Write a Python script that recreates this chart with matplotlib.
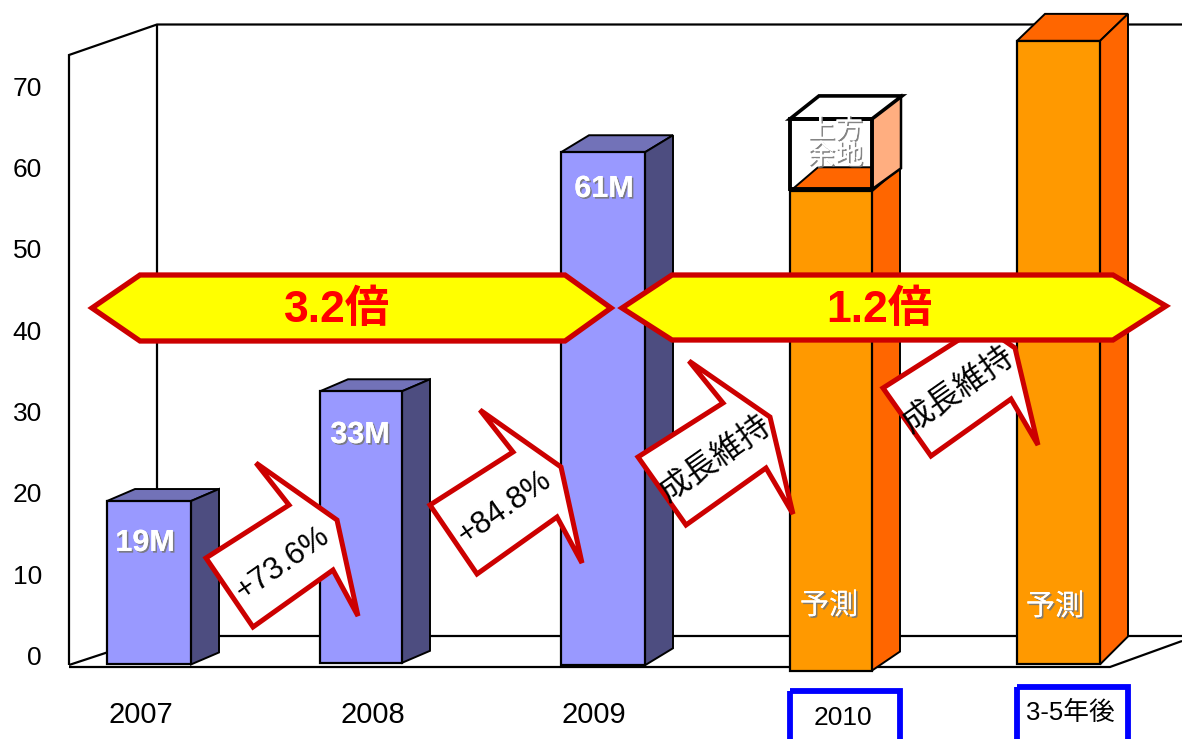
import matplotlib
matplotlib.use("Agg")
import matplotlib.pyplot as plt
import matplotlib.patheffects as pe
from matplotlib.patches import Polygon, Rectangle

plt.rcParams['font.family'] = ['Liberation Sans', 'Noto Sans CJK JP', 'DejaVu Sans']
FAM = ['Liberation Sans', 'Noto Sans CJK JP', 'DejaVu Sans']

# ---- data ----
categories = ['2007', '2008', '2009', '2010', '3-5年後']
bar_values = [19.0, 32.5, 61.9, 57.1, 75.6]
bar_labels = ['19M', '33M', '61M']
bar_bases = [-1.1, -0.9, -1.2, -1.85, -1.1]
headroom_value = 66.0
y_ticks = [0, 10, 20, 30, 40, 50, 60, 70]
growth_labels = ['+73.6%', '+84.8%', '成長維持', '成長維持']
band_labels = ['3.2倍', '1.2倍']

# ---- layout (pixels) ----
W, H = 1182, 739
ZERO_PX, PX_PER_UNIT = 655.5, 8.13
bar_left = [107, 320, 561, 790, 1017]
bar_width = [84, 82, 84, 82, 83]
depth_dx = [28, 28, 28, 28, 28]
depth_top = [12, 12, 17, 24, 27]
depth_bot = [12, 12, 17, 19, 28]
PURPLE = ('#9999FF', '#7272B8', '#4D4D80')
ORANGE = ('#FF9900', '#FF6600', '#FF6600')
RED = '#CC0000'


def yv(px):
    return (ZERO_PX - px) / PX_PER_UNIT


def ypx(v):
    return ZERO_PX - v * PX_PER_UNIT


def P(pts):
    return [(x, yv(y)) for x, y in pts]


fig = plt.figure(figsize=(W / 100, H / 100), dpi=100, facecolor='white')
AX_BOTTOM = 680
ax = fig.add_axes([69 / W, (H - AX_BOTTOM) / H, (W - 69) / W, AX_BOTTOM / H])
ax.set_xlim(69, W)
ax.set_ylim(yv(AX_BOTTOM), yv(0))
ax.patch.set_alpha(0)
for s in ax.spines.values():
    s.set_visible(False)
ax.xaxis.set_visible(False)
ax.set_yticks(y_ticks)
ax.tick_params(axis='y', length=0, pad=19.5, labelsize=19)
ax.set_axisbelow(False)


def poly(pts, z, **kw):
    ax.add_patch(Polygon(P(pts), closed=True, zorder=z, clip_on=False, joinstyle='miter', **kw))


def line(pts, lw=1.6, z=1, c='black'):
    p = P(pts)
    ax.plot([a for a, _ in p], [b for _, b in p], color=c, lw=lw, zorder=z,
            clip_on=False, solid_joinstyle='miter', solid_capstyle='butt')


# wall and floor frame
line([(69, 665), (69, 55), (157, 24.5), (W, 24.5)])
line([(157, 24.5), (157, 636), (W, 636)])
line([(69, 665), (157, 636)])
line([(69, 667), (1110, 667), (W, 641)])

# bars
for i, (val, base) in enumerate(zip(bar_values, bar_bases)):
    cols = PURPLE if i < 3 else ORANGE
    l, w = bar_left[i], bar_width[i]
    r = l + w
    top, bot = ypx(val), ypx(base)
    dx, dt, db = depth_dx[i], depth_top[i], depth_bot[i]
    poly([(l, top), (l + dx, top - dt), (r + dx, top - dt), (r, top)], 3,
         facecolor=cols[1], edgecolor='black', lw=1.4)
    poly([(r, top), (r + dx, top - dt), (r + dx, bot - db), (r, bot)], 3,
         facecolor=cols[2], edgecolor='black', lw=1.4)
    ax.bar(l + w / 2, val - base, width=w, bottom=base, color=cols[0],
           edgecolor='black', linewidth=1.6, zorder=4, clip_on=False)

# headroom box above the 2010 bar
bl, bw = bar_left[3], bar_width[3]
bt = ypx(headroom_value)
bb = ypx(bar_values[3]) - 2
poly([(bl + bw, bt), (bl + bw + 29, bt - 23), (bl + bw + 29, bb - 21), (bl + bw, bb)], 5,
     facecolor='#FFAE80', edgecolor='black', lw=1.8)
poly([(bl, bt), (bl + 29, bt - 23), (bl + bw + 30, bt - 23), (bl + bw, bt)], 5,
     facecolor='white', edgecolor='black', lw=2.6)
ax.add_patch(Rectangle((bl, yv(bb)), bw, headroom_value - yv(bb), facecolor='none',
                       edgecolor='black', lw=2.8, zorder=5, clip_on=False))

shadow = [pe.withSimplePatchShadow(offset=(1.2, -1.2), shadow_rgbFace='#777777', alpha=0.9),
          pe.Normal()]
ax.text(835, yv(144), '上方\n余地', color='white', fontsize=20, ha='center', va='center',
        family=FAM, linespacing=1.0, zorder=6, path_effects=shadow)

# bar labels
for txt, (x, y) in zip(bar_labels, [(145, 543), (360, 435), (604, 189)]):
    ax.text(x, yv(y), txt, color='white', fontsize=22, fontweight='bold', ha='center',
            va='center', family=FAM, zorder=6, path_effects=shadow)
for x, y in [(829, 606), (1055, 607)]:
    ax.text(x, yv(y), '予測', color='white', fontsize=21, ha='center', va='center',
            family=FAM, zorder=6, path_effects=shadow)

# growth arrows
arrow_base = [(256, 463), (337, 520), (358, 616), (333, 570), (253, 627), (206, 558), (289, 505)]
arrow_job = [(689, 361), (770, 417), (793, 514), (766, 468), (686, 525), (638, 457), (723, 403)]
arrows = [
    (arrow_base, (0, 0), (283, 564), 22.5),
    (arrow_base, (224, -53), (505, 508), 22.5),
    (arrow_job, (0, 0), (716, 459), 23),
    (arrow_job, (245, -69), (959, 390), 23),
]
for txt, (pts, (ox, oy), (tx, ty), fs) in zip(growth_labels, arrows):
    poly([(x + ox, y + oy) for x, y in pts], 7, facecolor='white', edgecolor=RED, lw=3.6)
    ax.text(tx, yv(ty), txt, fontsize=fs, rotation=35, rotation_mode='anchor', ha='center',
            va='center', family=FAM, color='black', zorder=8)

# yellow bands
bands = [
    ([(92, 308), (140, 275), (565, 275), (611, 308), (565, 341), (140, 341)], (337, 310)),
    ([(622, 308), (672, 275), (1113, 275), (1166, 306), (1113, 340), (672, 340)], (879, 310)),
]
for txt, (pts, (tx, ty)) in zip(band_labels, bands):
    poly(pts, 9, facecolor='#FFFF00', edgecolor=RED, lw=3.8)
    ax.text(tx, yv(ty), txt, color='#FF0000', fontsize=32, fontweight='bold', ha='center',
            va='center', family=FAM, zorder=10)

# category labels
for txt, x, y, fs in zip(categories, [141, 373, 594, 843, 1070], [715, 715, 715, 718, 713],
                         [21, 21, 21, 19, 18.5]):
    ax.text(x, yv(y), txt, fontsize=fs, ha='center', va='center', family=FAM, color='black',
            zorder=10, clip_on=False)
for x0, x1, y0 in [(790, 900, 691), (1017, 1128, 687)]:
    poly([(x0, y0), (x1, y0), (x1, 750), (x0, 750)], 9, facecolor='none', edgecolor='#0000FF', lw=4.2)

fig.savefig('out.png', dpi=100)
